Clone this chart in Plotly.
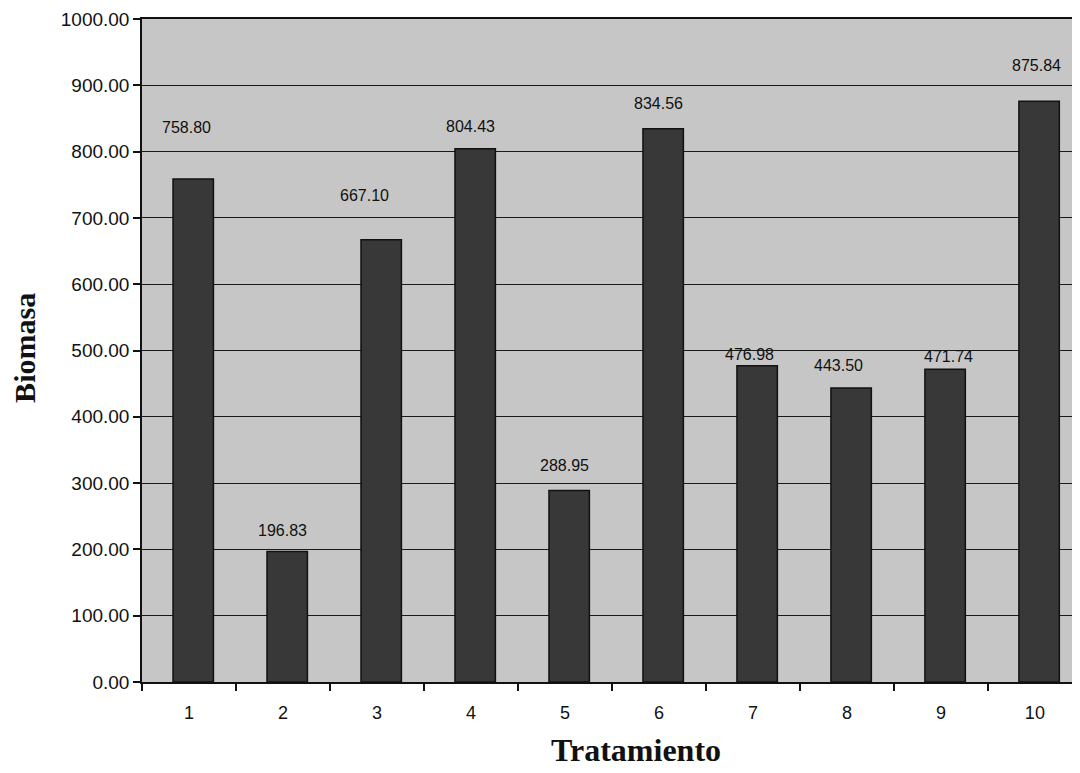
import plotly.graph_objects as go

categories = ["1", "2", "3", "4", "5", "6", "7", "8", "9", "10"]
biomasa = [758.80, 196.83, 667.10, 804.43, 288.95, 834.56, 476.98, 443.50, 471.74, 875.84]
value_labels = ["758.80", "196.83", "667.10", "804.43", "288.95", "834.56", "476.98", "443.50", "471.74", "875.84"]
y_ticks = [0, 100, 200, 300, 400, 500, 600, 700, 800, 900, 1000]
x_title = "Tratamiento"
y_title = "Biomasa"

# style: per-label vertical offsets (px) above the bar tops, as in the scanned chart
label_yshift = [51, 21, 44, 22, 25, 25, 11, 22, 13, 36]
label_xshift = [-2, 0, -12, 0, 0, 0, -3, -8, 8, 2]

fig = go.Figure()
fig.add_trace(go.Bar(
    x=categories, y=biomasa,
    width=0.43, offset=-0.17,
    marker=dict(color="#383838", line=dict(color="#111111", width=1.5)),
    hoverinfo="x+y",
))

for i, (v, t, dy, dx) in enumerate(zip(biomasa, value_labels, label_yshift, label_xshift)):
    fig.add_annotation(x=i, y=v, xref="x", yref="y", text=t, showarrow=False,
                       yanchor="middle", yshift=dy, xshift=dx,
                       font=dict(family="Arial, Liberation Sans", size=16, color="#111111"))

fig.add_annotation(x=0.5266, y=-0.1026, xref="paper", yref="paper", text="<b>" + x_title + "</b>",
                   showarrow=False, xanchor="center", yanchor="middle",
                   font=dict(family="Liberation Serif, Times New Roman", size=32, color="#111111"))
fig.add_annotation(x=-0.1247, y=0.504, xref="paper", yref="paper", text="<b>" + y_title + "</b>",
                   showarrow=False, xanchor="center", yanchor="middle", textangle=-90,
                   font=dict(family="Liberation Serif, Times New Roman", size=30, color="#111111"))

# page body has an 8px margin, so the figure is 8px smaller and margins shifted
fig.update_layout(
    width=1072, height=765,
    margin=dict(l=134, r=0, t=11, b=91),
    paper_bgcolor="white",
    plot_bgcolor="#c6c6c6",
    showlegend=False,
    font=dict(family="Arial, Liberation Sans", size=15, color="#111111"),
)
fig.update_xaxes(
    type="category",
    range=[-0.5, 9.48],
    automargin=False,
    tickson="boundaries",
    ticks="outside", ticklen=7, tickcolor="#111111", tickwidth=1.5,
    showline=True, linecolor="#111111", linewidth=1.5, mirror=True,
    showgrid=False,
    ticklabelstandoff=14,
    tickfont=dict(size=18),
)
fig.update_yaxes(
    range=[0, 1000],
    automargin=False,
    tickvals=y_ticks,
    tickformat=".2f",
    ticks="outside", ticklen=7, tickcolor="#111111", tickwidth=1.5,
    showline=True, linecolor="#111111", linewidth=1.5,
    showgrid=True, gridcolor="#1a1a1a", gridwidth=1.2,
    zeroline=False,
    tickfont=dict(size=19),
)

fig.write_html("out.html")
